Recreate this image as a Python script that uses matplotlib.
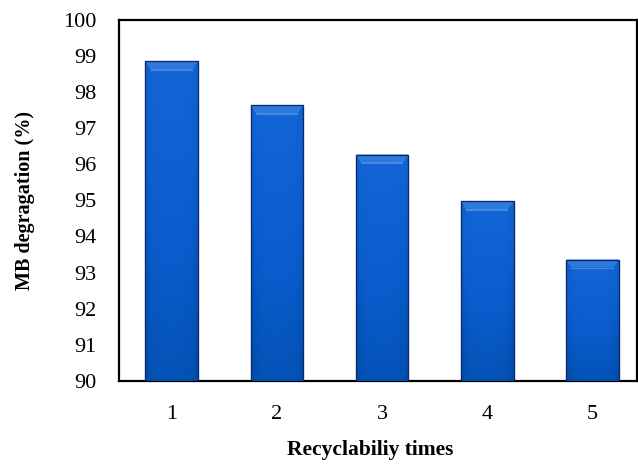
import numpy as np
import matplotlib
matplotlib.use('Agg')
import matplotlib.pyplot as plt
from matplotlib.colors import LinearSegmentedColormap

cycles = [1, 2, 3, 4, 5]
degradation = [98.86, 97.64, 96.27, 94.97, 93.36]
yticks = list(range(90, 101))

plt.rcParams['font.family'] = ['Liberation Serif', 'DejaVu Serif']

fig = plt.figure(figsize=(6.38, 4.72), dpi=100)
ax = fig.add_axes([0.1865, 0.193, 0.8115, 0.765])

bars = ax.bar(cycles, np.array(degradation) - 90, width=0.5, bottom=90,
              color='#0a5ccc', edgecolor='#0b2a66', linewidth=0.8, zorder=2)

# shaded fill: lighter top, darker bottom, slightly darker sides
cmap = LinearSegmentedColormap.from_list('bluebar', ['#004ca8', '#0a5ccc', '#1466d6'])
nx, ny = 60, 200
gx = np.linspace(-1, 1, nx)
gy = np.linspace(0, 1, ny)[:, None]
grad = gy * 0.8 + 0.2 - 0.25 * (np.abs(gx)[None, :] ** 4)
for b in bars:
    x0, y0 = b.get_x(), b.get_y()
    w, h = b.get_width(), b.get_height()
    im = ax.imshow(grad, extent=[x0, x0 + w, y0, y0 + h], origin='lower',
                   cmap=cmap, vmin=0, vmax=1, aspect='auto', zorder=3)
    im.set_clip_path(b)
    # bevel at the top
    bev = 0.22
    ax.fill([x0, x0 + w, x0 + w - 0.05, x0 + 0.05],
            [y0 + h, y0 + h, y0 + h - bev, y0 + h - bev],
            color='#2f78dc', lw=0, zorder=4)
    ax.fill([x0 + 0.05, x0 + w - 0.05, x0 + w - 0.05, x0 + 0.05],
            [y0 + h - bev, y0 + h - bev, y0 + h - bev - 0.05, y0 + h - bev - 0.05],
            color='#5a98e8', lw=0, alpha=0.7, zorder=4)
    ax.add_patch(plt.Rectangle((x0, y0), w, h, fill=False,
                               edgecolor='#0b2a66', lw=0.9, zorder=5))

ax.set_xlim(0.5, 5.42)
ax.set_ylim(90, 100)
ax.set_yticks(yticks)
ax.set_xticks(cycles)
ax.tick_params(axis='both', length=0, labelsize=16)
ax.tick_params(axis='y', pad=16)
ax.tick_params(axis='x', pad=17)
for s in ax.spines.values():
    s.set_linewidth(1.6)
    s.set_color('black')

# axis titles placed in figure pixels
fig.text(25 / 638, 1 - 201 / 472, 'MB degragation (%)', fontsize=14.5, fontweight='bold',
         rotation=90, ha='center', va='center')
fig.text(370 / 638, 1 - 450 / 472, 'Recyclabiliy times', fontsize=15.5, fontweight='bold',
         ha='center', va='center')

plt.savefig('out.png', dpi=100)
